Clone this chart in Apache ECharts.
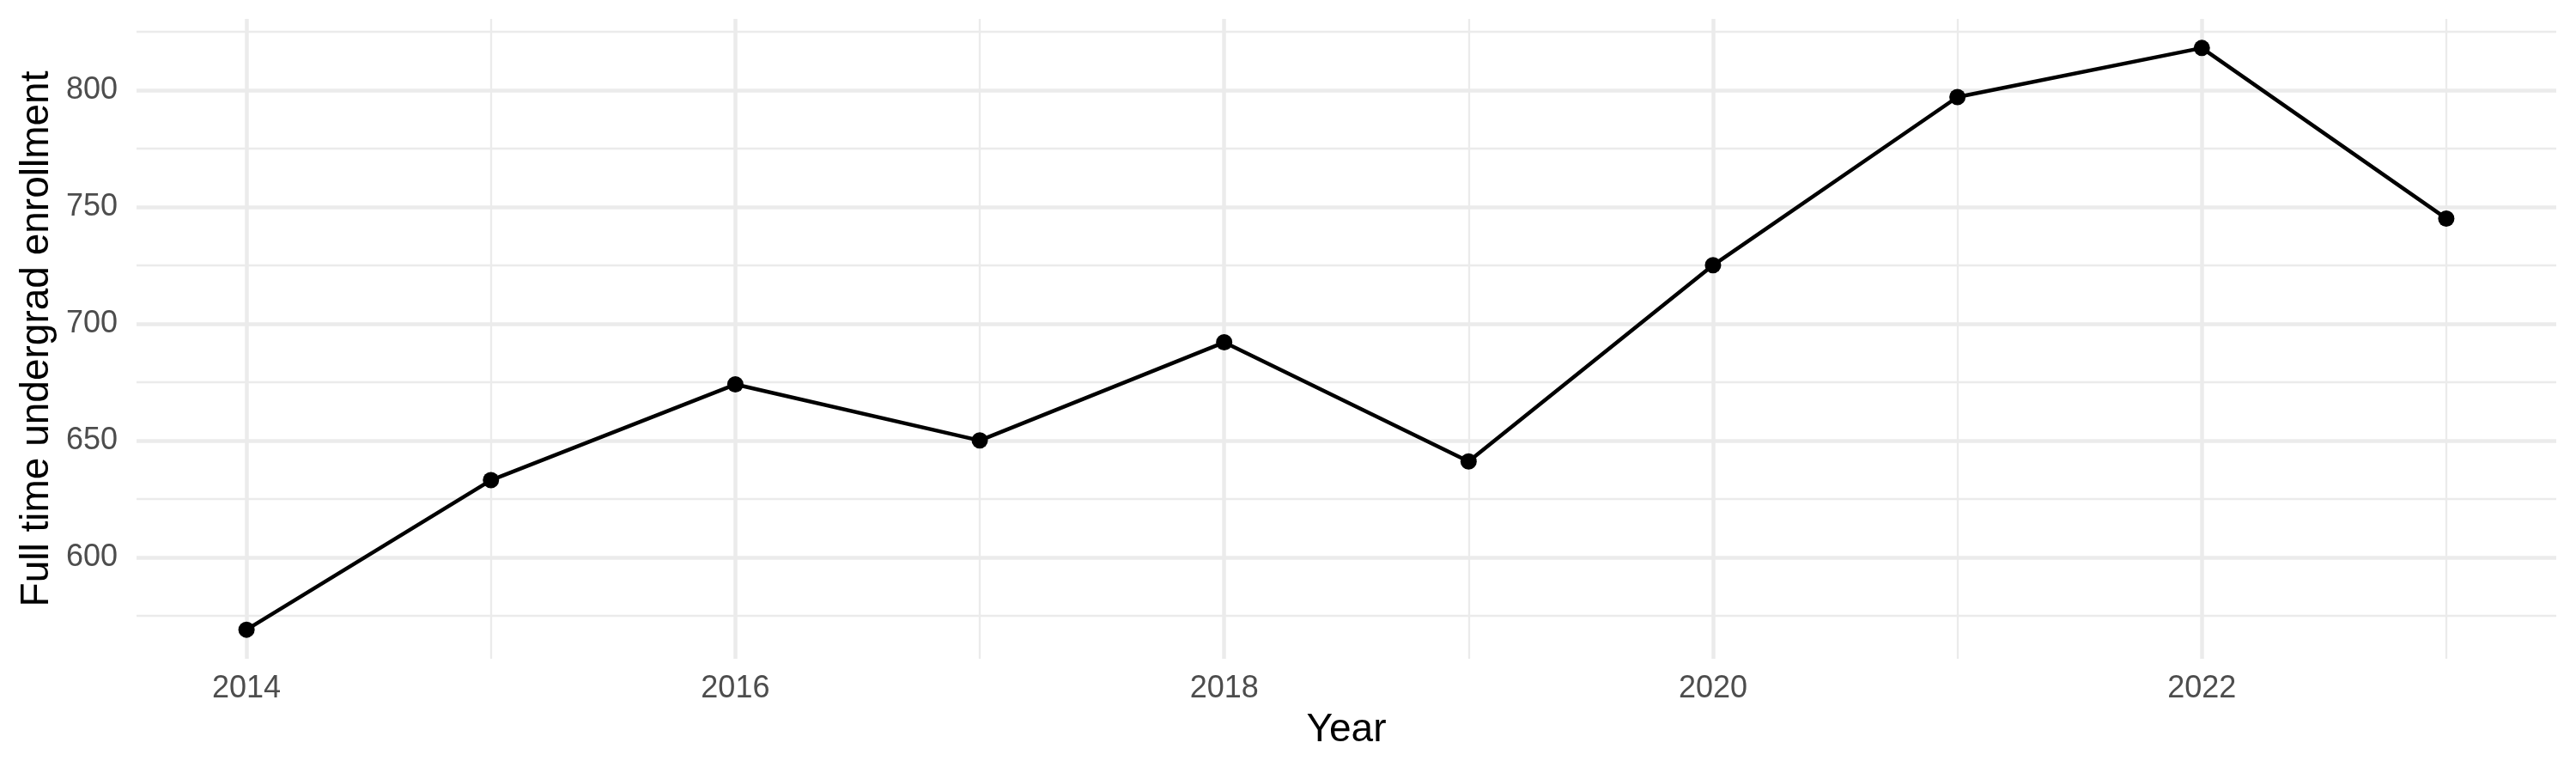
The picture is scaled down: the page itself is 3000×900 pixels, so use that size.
<!DOCTYPE html>
<html>
<head>
<meta charset="utf-8">
<script src="https://cdn.jsdelivr.net/npm/echarts@6/dist/echarts.min.js"></script>
<style>
html,body{margin:0;padding:0;background:#fff;}
#chart{width:3000px;height:900px;}
</style>
</head>
<body>
<div id="chart"></div>
<script>
const years = [2014, 2015, 2016, 2017, 2018, 2019, 2020, 2021, 2022, 2023];
const enrollment = [569, 633, 674, 650, 692, 641, 725, 797, 818, 745];
const xMajorTicks = [2014, 2016, 2018, 2020, 2022];
const xMinorTicks = [2015, 2017, 2019, 2021, 2023];
const yMajorTicks = [600, 650, 700, 750, 800];
const yMinorTicks = [575, 625, 675, 725, 775, 825];
const xTitle = 'Year';
const yTitle = 'Full time undergrad enrollment';

const FONT = '"Liberation Sans", Arial, Helvetica, sans-serif';
const GRID_COLOR = '#EBEBEB';
const xMin = 2013.55, xMax = 2023.45;
const yMin = 556.55, yMax = 830.45;

const chart = echarts.init(document.getElementById('chart'), null, {renderer: 'canvas'});
const option = {
  animation: false,
  backgroundColor: '#ffffff',
  textStyle: {fontFamily: FONT},
  grid: {left: 159, right: 23, top: 22, bottom: 133, containLabel: false, outerBoundsMode: 'none'},
  xAxis: [
    {
      type: 'value', min: xMin, max: xMax, position: 'bottom',
      name: xTitle, nameLocation: 'middle', nameGap: 60,
      nameTextStyle: {fontSize: 46, color: '#000000', fontFamily: FONT},
      axisLine: {show: false},
      axisTick: {show: false, customValues: xMajorTicks},
      axisLabel: {show: true, customValues: xMajorTicks, fontSize: 36, color: '#4D4D4D', margin: 17, fontFamily: FONT,
                  formatter: v => String(v)},
      splitLine: {show: true, lineStyle: {color: GRID_COLOR, width: 4.5}}
    },
    {
      type: 'value', min: xMin, max: xMax, position: 'bottom',
      axisLine: {show: false},
      axisTick: {show: false, customValues: xMinorTicks},
      axisLabel: {show: false, customValues: xMinorTicks},
      splitLine: {show: true, lineStyle: {color: GRID_COLOR, width: 2.3}}
    }
  ],
  yAxis: [
    {
      type: 'value', min: yMin, max: yMax, position: 'left',
      name: yTitle, nameLocation: 'middle', nameGap: 92, nameRotate: 90,
      nameTextStyle: {fontSize: 46, color: '#000000', fontFamily: FONT},
      axisLine: {show: false},
      axisTick: {show: false, customValues: yMajorTicks},
      axisLabel: {show: true, customValues: yMajorTicks, fontSize: 36, color: '#4D4D4D', margin: 22, fontFamily: FONT},
      splitLine: {show: true, lineStyle: {color: GRID_COLOR, width: 4.5}}
    },
    {
      type: 'value', min: yMin, max: yMax, position: 'left',
      axisLine: {show: false},
      axisTick: {show: false, customValues: yMinorTicks},
      axisLabel: {show: false, customValues: yMinorTicks},
      splitLine: {show: true, lineStyle: {color: GRID_COLOR, width: 2.3}}
    }
  ],
  series: [{
    type: 'line',
    xAxisIndex: 0, yAxisIndex: 0,
    data: years.map((y, i) => [y, enrollment[i]]),
    lineStyle: {color: '#000000', width: 4.5},
    itemStyle: {color: '#000000'},
    symbol: 'circle', symbolSize: 19, showSymbol: true,
    z: 10
  }]
};
chart.setOption(option);
</script>
</body>
</html>
